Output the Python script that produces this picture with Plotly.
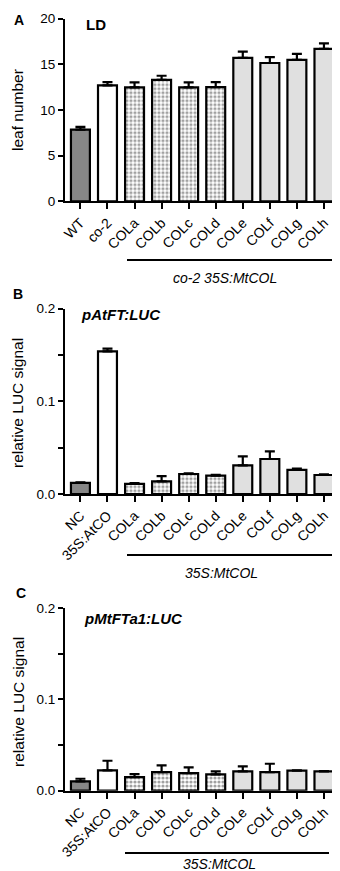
import plotly.graph_objects as go

H = 871
W = 340

# ---------------- data ----------------
cats_A = ["WT", "co-2", "COLa", "COLb", "COLc", "COLd", "COLe", "COLf", "COLg", "COLh"]
vals_A = [7.85, 12.7, 12.48, 13.3, 12.48, 12.5, 15.7, 15.15, 15.5, 16.7]
err_A = [0.3, 0.35, 0.55, 0.45, 0.55, 0.55, 0.7, 0.65, 0.65, 0.6]

cats_BC = ["NC", "35S:AtCO", "COLa", "COLb", "COLc", "COLd", "COLe", "COLf", "COLg", "COLh"]
vals_B = [0.012, 0.154, 0.011, 0.0137, 0.0216, 0.0198, 0.031, 0.0378, 0.026, 0.0205]
err_B = [0.0006, 0.003, 0.0008, 0.0055, 0.0008, 0.0008, 0.0096, 0.0082, 0.0013, 0.0008]

vals_C = [0.0102, 0.0222, 0.0149, 0.0204, 0.0193, 0.0178, 0.0211, 0.0204, 0.0219, 0.0211]
err_C = [0.0029, 0.0106, 0.0033, 0.0073, 0.0062, 0.0033, 0.0055, 0.0091, 0.0004, 0.0004]

fills = ["#878787", "#ffffff", "#ffffff", "#ffffff", "#ffffff", "#ffffff",
         "#e0e0e0", "#e0e0e0", "#e0e0e0", "#e0e0e0"]
patterns = ["", "", ".", ".", ".", ".", "", "", "", ""]

FONT = "Liberation Sans, Arial, sans-serif"


def py(px):
    return 1 - px / H


fig = go.Figure()

panels = [
    ("x", "y", cats_A, vals_A, err_A),
    ("x2", "y2", cats_BC, vals_B, err_B),
    ("x3", "y3", cats_BC, vals_C, err_C),
]
for xa, ya, cats, vals, errs in panels:
    fig.add_trace(go.Bar(
        x=cats, y=vals, xaxis=xa, yaxis=ya, width=0.7,
        marker=dict(color=fills, line=dict(color="black", width=2.2),
                    pattern=dict(shape=patterns, fgcolor="#000000", bgcolor="#ffffff",
                                 size=4, solidity=0.5, fillmode="overlay")),
        error_y=dict(type="data", array=errs, arrayminus=[0] * len(errs), symmetric=False,
                     color="black", thickness=2.2, width=5),
        showlegend=False,
    ))

xdom = [57 / W, 333 / W]
ydoms = {
    "A": [py(193.3), py(10.7)],
    "B": [py(486), py(300.7)],
    "C": [py(782.7), py(600)],
}

common_x = dict(domain=xdom, range=[-0.57, 9.63], showline=True, linecolor="black", linewidth=2,
                ticks="outside", ticklen=6, tickwidth=2, tickcolor="black", tickangle=-45,
                tickfont=dict(family=FONT, size=14, color="black"), automargin=False,
                showgrid=False, zeroline=False, fixedrange=True)
common_y = dict(showline=True, linecolor="black", linewidth=2, ticks="outside", ticklen=5,
                tickwidth=2, tickcolor="black", tickfont=dict(family=FONT, size=13.5, color="black"),
                automargin=False, showgrid=False, zeroline=False, fixedrange=True)

fig.update_layout(
    width=W, height=H, margin=dict(l=0, r=0, t=0, b=0),
    paper_bgcolor="white", plot_bgcolor="white", bargap=0.3,
    font=dict(family=FONT, color="black"),
    xaxis=dict(**common_x, anchor="y"),
    xaxis2=dict(**common_x, anchor="y2"),
    xaxis3=dict(**common_x, anchor="y3"),
    yaxis=dict(**common_y, domain=ydoms["A"], range=[0, 20], tickvals=[0, 5, 10, 15, 20],
               ticktext=["0", "5", "10", "15", "20"], anchor="x"),
    yaxis2=dict(**common_y, domain=ydoms["B"], range=[0, 0.2],
                tickvals=[0, 0.05, 0.1, 0.15, 0.2], ticktext=["0.0", "", "0.1", "", "0.2"], anchor="x2"),
    yaxis3=dict(**common_y, domain=ydoms["C"], range=[0, 0.2],
                tickvals=[0, 0.05, 0.1, 0.15, 0.2], ticktext=["0.0", "", "0.1", "", "0.2"], anchor="x3"),
)

ann = []
# panel letters
for letter, ypx, xpx in [("A", 12, 4), ("B", 286, 3), ("C", 585, 6)]:
    ann.append(dict(text=f"<b>{letter}</b>", x=xpx / W, y=py(ypx), xref="paper", yref="paper",
                    xanchor="left", yanchor="middle", showarrow=False,
                    font=dict(family=FONT, size=14, color="black")))
# y titles
for txt, ypx in [("leaf number", 102), ("relative LUC signal", 395), ("relative LUC signal", 694)]:
    ann.append(dict(text=txt, x=10 / W, y=py(ypx), xref="paper", yref="paper", textangle=-90,
                    xanchor="center", yanchor="middle", showarrow=False,
                    font=dict(family=FONT, size=15.5, color="black")))
# inner titles
for txt, xpx, ypx in [("<b>LD</b>", 76, 17), ("<b><i>pAtFT:LUC</i></b>", 71, 307),
                      ("<b><i>pMtFTa1:LUC</i></b>", 74, 610)]:
    ann.append(dict(text=txt, x=xpx / W, y=py(ypx), xref="paper", yref="paper",
                    xanchor="left", yanchor="middle", showarrow=False,
                    font=dict(family=FONT, size=15, color="black")))
# group labels under brackets
for txt, xpx, ypx in [("<i>co-2 35S:MtCOL</i>", 217, 270), ("<i>35S:MtCOL</i>", 213, 565),
                      ("<i>35S:MtCOL</i>", 211, 856)]:
    ann.append(dict(text=txt, x=xpx / W, y=py(ypx), xref="paper", yref="paper",
                    xanchor="center", yanchor="middle", showarrow=False,
                    font=dict(family=FONT, size=14, color="black")))
fig.update_layout(annotations=ann)

shapes = []
for x0, x1, ypx in [(119, 324, 252), (119, 324, 547), (117, 321, 845)]:
    shapes.append(dict(type="line", xref="paper", yref="paper", x0=x0 / W, x1=x1 / W,
                       y0=py(ypx), y1=py(ypx), line=dict(color="black", width=2)))
fig.update_layout(shapes=shapes)

fig.write_html("out.html")
